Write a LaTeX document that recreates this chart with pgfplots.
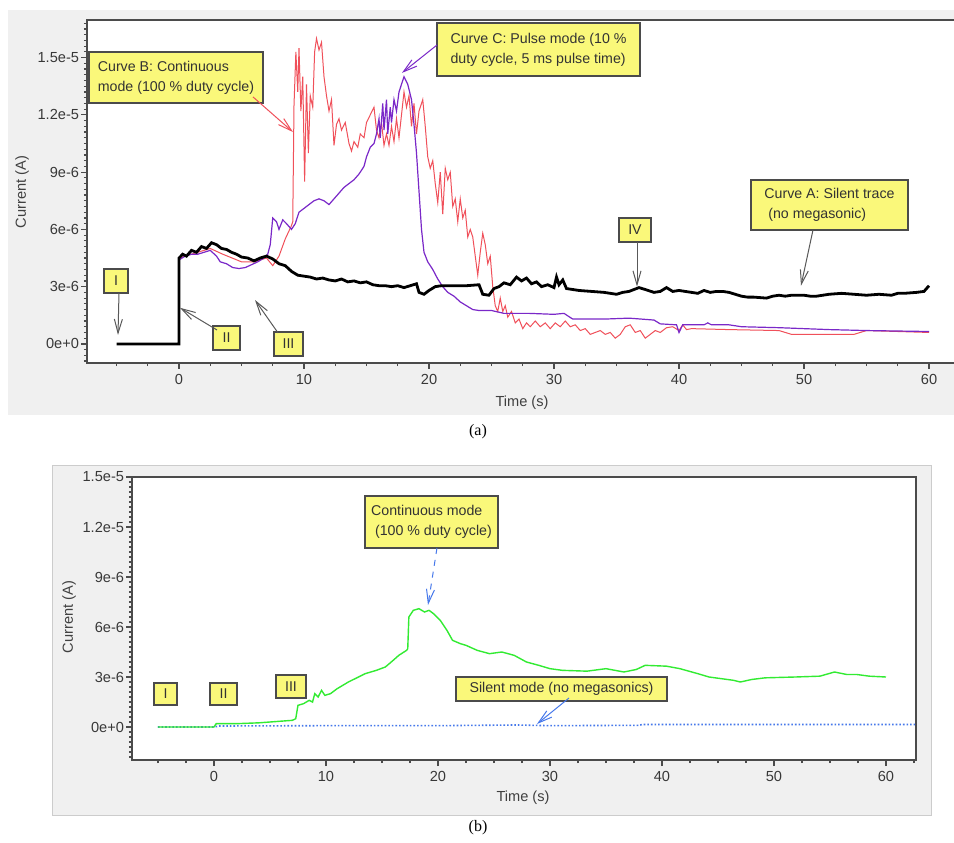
\documentclass[border=0pt]{standalone}
\usepackage{pgfplots}
\pgfplotsset{compat=1.18}
\usepackage{fontspec}
\setmainfont{Liberation Sans}
\newfontfamily\capfont{Liberation Serif}
\usetikzlibrary{arrows.meta}
\definecolor{annyellow}{RGB}{250,248,122}
\definecolor{curvered}{RGB}{240,80,90}
\definecolor{curvepurple}{RGB}{122,40,200}
\definecolor{curvegreen}{RGB}{50,235,50}
\definecolor{curveblue}{RGB}{70,120,235}
\definecolor{bggray}{RGB}{240,240,240}
\definecolor{axgray}{RGB}{75,75,75}
\begin{document}
\begin{tikzpicture}[
  ann/.style={draw=axgray, line width=0.7pt, fill=annyellow, font=\fontsize{7.1}{10}\selectfont, text=black!80, inner sep=0pt, align=center},
  annm/.style={ann, align=left},
  arr/.style={draw=black!65, line width=0.5pt, -{Straight Barb[length=7pt,width=4pt]}},
  lab/.style={font=\fontsize{7.3}{9}\selectfont, text=black!75}
]
\useasboundingbox (0,0) rectangle (477pt,421pt);
% gray panels
\fill[bggray] (4pt,213.5pt) rectangle (480pt,416pt);
\filldraw[fill=bggray, draw=black!20, line width=0.5pt] (26pt,13.5pt) rectangle (465.5pt,188pt);

\pgfplotsset{
  myaxis/.style={
    scale only axis, anchor=south west, clip=false,
    axis background/.style={fill=white},
    axis line style={draw=axgray, line width=0.9pt},
    xtick pos=bottom, ytick pos=left, tick align=outside,
    major tick length=3pt, minor tick length=1.6pt,
    tick style={draw=axgray, line width=0.6pt},
    xtick={0,10,...,60},
    minor xtick={-5,-2.5,...,62.5},
    ytick={0,3,6,9,12,15},
    yticklabels={0e+0,3e-6,6e-6,9e-6,1.2e-5,1.5e-5},
    minor ytick={-1.8,-1.5,...,16.9},
    /pgf/number format/assume math mode=true,
    tick label style={font=\fontsize{7.3}{8}\selectfont, text=black!78},
    yticklabel style={inner sep=0.8pt},
    xticklabel style={inner sep=1.5pt, yshift=-1pt},
  }
}

% ---------- panel (a) ----------
\begin{axis}[myaxis,
  at={(43.5pt,239.5pt)}, width=436.5pt, height=171.5pt,
  xmin=-7.36, xmax=62.48, ymin=-1.0, ymax=16.97]
% Curve B (red)
\addplot[curvered, line width=0.5pt] coordinates {
(0,0)(0,4.5)(1,4.7)(2.5,5.0)(3.5,4.7)(5,4.3)(6,4.3)(7,4.5)(7.5,4.1)(8,4.6)(8.5,5.5)(9,6.2)(9.1,6.4)
(9.2,12.5)(9.35,15.3)(9.5,13.2)(9.6,15.5)(9.75,12.2)(9.9,14.0)(10.05,8.5)(10.2,13.6)(10.35,10.0)(10.5,13.0)
(10.7,12.4)(10.85,15.3)(11.0,16.0)(11.2,15.4)(11.4,15.8)(11.6,14.0)(11.8,13.0)(12.0,12.2)(12.2,12.8)(12.4,10.4)
(12.6,11.5)(12.8,11.8)(13.0,11.2)(13.3,11.6)(13.6,10.5)(13.8,10.1)(14.0,10.6)(14.3,10.3)(14.5,11.0)(14.8,10.8)
(15.0,11.6)(15.3,12.0)(15.6,12.4)(15.8,11.2)(16.0,10.8)(16.2,11.6)(16.4,10.4)(16.6,11.0)(16.8,10.4)(17.0,11.4)
(17.2,10.6)(17.4,11.8)(17.6,10.8)(17.8,12.0)(18.0,13.2)(18.2,12.4)(18.4,13.0)(18.6,11.4)(18.8,12.6)(19.0,11.0)
(19.2,12.2)(19.5,12.8)(19.7,11.4)(19.9,9.8)(20.1,9.2)(20.3,9.6)(20.5,8.4)(20.7,7.4)(20.9,9.0)(21.1,6.8)
(21.3,9.2)(21.5,8.6)(21.7,9.0)(21.9,7.2)(22.1,7.6)(22.3,6.4)(22.5,7.6)(22.7,6.6)(22.9,7.0)(23.1,5.6)
(23.3,6.0)(23.5,5.6)(23.7,4.6)(23.9,3.6)(24.1,4.8)(24.3,5.8)(24.5,5.2)(24.7,4.2)(24.9,4.6)(25.1,3.0)
(25.3,2.0)(25.5,1.7)(25.7,2.4)(25.9,1.7)(26.1,2.0)(26.3,1.4)(26.6,1.7)(26.9,1.1)(27.2,1.3)(27.5,0.8)
(27.8,1.1)(28.1,0.9)(28.5,1.2)(28.9,0.9)(29.3,1.1)(29.7,0.8)(30.1,1.1)(30.5,0.9)(30.9,1.2)(31.3,0.9)
(31.7,1.0)(32.1,0.7)(32.5,0.8)(32.9,0.5)(33.3,0.6)(33.7,0.7)(34.1,0.5)(34.5,0.6)(34.9,0.3)(35.3,0.5)
(35.7,0.9)(36.1,1.0)(36.5,0.6)(36.9,0.7)(37.3,0.3)(37.7,0.5)(38.1,0.7)(38.5,0.6)(39,0.85)(39.5,0.9)
(40,0.7)(40.3,1.0)(40.6,0.75)(41,0.8)(44,0.75)(48,0.7)(49,0.5)(54,0.5)(55,0.7)(60,0.6)};
% Curve C (purple)
\addplot[curvepurple, line width=0.6pt] coordinates {
(0,0)(0,4.4)(0.5,4.6)(1,4.7)(1.5,4.7)(2,4.8)(2.5,4.9)(3,4.6)(3.3,4.3)(3.8,4.2)(4.3,4.0)(4.8,3.95)(5.3,4.0)
(5.8,4.15)(6.3,4.3)(6.8,4.5)(7.1,4.7)(7.3,5.2)(7.5,6.6)(7.8,6.4)(8.0,6.0)(8.3,6.5)(8.6,6.3)(9.0,6.0)(9.3,6.3)
(9.6,6.9)(10.0,7.1)(10.4,7.3)(10.8,7.5)(11.2,7.6)(11.6,7.5)(12.0,7.3)(12.4,7.6)(12.8,7.9)(13.2,8.2)(13.6,8.4)
(14.0,8.6)(14.4,8.9)(14.8,9.3)(15.0,9.8)(15.3,10.3)(15.6,10.5)(15.8,11.0)(16.0,11.8)(16.1,10.8)(16.3,12.6)
(16.4,11.2)(16.6,12.8)(16.7,11.0)(16.9,12.4)(17.0,11.6)(17.2,12.8)(17.4,12.2)(17.6,13.2)(17.8,13.6)(18.0,14.0)
(18.3,13.6)(18.6,12.8)(18.8,11.5)(19.0,10.0)(19.2,8.0)(19.4,6.0)(19.6,4.8)(19.9,4.3)(20.3,3.9)(20.7,3.4)
(21.1,3.0)(21.5,2.7)(22,2.5)(22.5,2.2)(23,2.0)(23.5,1.8)(24,1.75)(25,1.75)(26,1.6)(28,1.6)(30,1.55)(30.8,1.6)
(31.5,1.3)(34,1.3)(36,1.35)(38,1.25)(38.5,1.05)(39.8,1.0)(40.0,0.6)(40.3,1.0)(42,1.0)(42.3,1.1)(42.6,1.0)
(44,1.0)(45,0.9)(48,0.85)(50,0.8)(52,0.75)(55,0.7)(60,0.65)};
% Curve A (black)
\addplot[black, line width=1.4pt] coordinates {
(-5,0)(0,0)(0,4.5)(0.3,4.7)(0.6,4.6)(1,4.9)(1.4,4.8)(1.8,5.1)(2.2,5.0)(2.6,5.3)(3,5.2)(3.4,5.0)(3.8,4.95)
(4.2,4.8)(4.6,4.7)(5,4.55)(5.5,4.5)(6,4.35)(6.5,4.5)(7,4.6)(7.5,4.45)(8,4.2)(8.5,4.1)(9,3.8)(9.5,3.6)
(10,3.55)(10.5,3.5)(11,3.4)(11.5,3.45)(12,3.35)(12.5,3.3)(13,3.4)(13.5,3.25)(14,3.3)(14.5,3.2)(15,3.25)
(15.5,3.1)(16,3.05)(16.5,3.05)(17,3.0)(17.5,3.05)(18,2.95)(18.5,3.05)(19,3.15)(19.2,2.7)(19.6,2.6)(20,2.8)
(20.5,3.0)(21,3.05)(22,3.05)(23,3.05)(24,3.1)(24.3,2.6)(24.8,2.55)(25.2,2.9)(25.6,3.0)(26,3.2)(26.5,3.1)
(27,3.5)(27.4,3.3)(27.8,3.45)(28.2,3.15)(28.6,3.25)(29,3.0)(29.5,3.1)(30,2.95)(30.2,3.5)(30.4,3.1)(30.7,3.35)
(31,2.9)(31.5,2.85)(32,2.8)(33,2.75)(34,2.7)(35,2.6)(35.5,2.7)(36,2.75)(36.8,2.95)(37.3,2.85)(38,2.7)
(38.5,2.75)(39,2.95)(39.5,2.75)(40,2.8)(41,2.7)(41.5,2.65)(42,2.8)(42.5,2.7)(43,2.75)(43.5,2.75)(44,2.7)
(44.5,2.6)(45,2.5)(45.5,2.45)(46,2.45)(47,2.4)(47.5,2.5)(48,2.55)(48.5,2.5)(49,2.55)(50,2.55)(50.5,2.5)
(51,2.5)(52,2.6)(53,2.65)(54,2.6)(55,2.55)(56,2.6)(57,2.55)(57.5,2.65)(58,2.65)(59,2.7)(59.6,2.75)(60,3.05)};
% annotations
\node[annm, minimum width=87pt, minimum height=25.5pt] at (axis cs:-0.24,13.96) {Curve B: Continuous\\mode (100 \% duty cycle)};
\draw[arr, draw=curvered] (axis cs:5.92,12.94) -- (axis cs:9.12,11.1);
\node[annm, minimum width=101.5pt, minimum height=26.5pt] at (axis cs:28.76,15.43) {Curve C: Pulse mode (10 \%\\duty cycle, 5 ms pulse time)};
\draw[arr, draw=curvepurple] (axis cs:20.64,15.66) -- (axis cs:17.84,14.2);
\node[annm, minimum width=78.5pt, minimum height=25pt] at (axis cs:52.04,7.28) {Curve A: Silent trace\\\ (no megasonic)};
\draw[arr] (axis cs:50.72,5.97) -- (axis cs:49.76,3.05);
\node[ann, minimum width=16pt, minimum height=12pt] at (axis cs:36.48,5.97) {IV};
\draw[arr] (axis cs:36.64,5.34) -- (axis cs:36.64,3.0);
\node[ann, minimum width=12pt, minimum height=12pt] at (axis cs:-5.04,3.30) {I};
\draw[arr] (axis cs:-4.8,2.67) -- (axis cs:-4.88,0.47);
\node[ann, minimum width=13.5pt, minimum height=12pt] at (axis cs:3.8,0.31) {II};
\draw[arr] (axis cs:3.04,0.73) -- (axis cs:0.08,1.89);
\node[ann, minimum width=14.5pt, minimum height=12pt] at (axis cs:8.76,0.0) {III};
\draw[arr] (axis cs:7.92,0.58) -- (axis cs:6.08,2.30);
\end{axis}

% ---------- panel (b) ----------
\begin{axis}[myaxis,
  at={(66pt,41pt)}, width=392pt, height=141.5pt,
  xmin=-7.32, xmax=62.68, ymin=-1.98, ymax=15]
\addplot[curveblue, line width=0.8pt, densely dotted] coordinates {
(-5,0)(0,0)(0.5,0.06)(10,0.08)(20,0.08)(27,0.12)(30,0.08)(38,0.1)(38.2,0.15)(62.6,0.15)};
\addplot[curvegreen, line width=0.7pt] coordinates {
(-5,0)(0,0)(0.2,0.2)(2,0.2)(4,0.25)(5,0.3)(6,0.35)(7,0.4)(7.3,0.5)(7.5,1.3)(8,1.4)(8.5,1.6)(8.8,1.5)
(9.0,2.0)(9.3,1.8)(9.6,2.2)(9.9,1.9)(10.4,2.0)(11,2.3)(12,2.7)(12.6,2.9)(13.5,3.2)(14.5,3.4)(15.3,3.6)
(16,4.0)(16.5,4.3)(17.2,4.6)(17.3,4.7)(17.4,6.6)(17.8,7.0)(18.3,7.1)(18.8,6.9)(19.2,7.0)(19.6,6.8)(20.2,6.4)
(20.8,5.8)(21.3,5.2)(22.0,5.0)(22.5,4.9)(23.5,4.6)(24.6,4.4)(25.7,4.5)(26.8,4.3)(27.9,3.9)(29,3.7)(30,3.5)
(31.1,3.4)(33.3,3.35)(35,3.5)(36.6,3.3)(37.7,3.45)(38.5,3.7)(40.4,3.65)(41.6,3.5)(43.2,3.2)(44.2,3.0)
(46.4,2.8)(47,2.7)(48,2.85)(49.2,2.95)(51.9,3.0)(54.1,3.05)(55.4,3.3)(56.5,3.15)(57.4,3.15)(58.5,3.05)(60,3.0)};
\node[annm, minimum width=66.5pt, minimum height=26pt] at (axis cs:19.42,12.3) {Continuous mode\\\ (100 \% duty cycle)};
\draw[arr, draw=curveblue, dashed] (axis cs:19.91,10.74) -- (axis cs:19.11,7.32);
\node[ann, minimum width=105.5pt, minimum height=12pt] at (axis cs:31.03,2.28) {Silent mode (no megasonics)};
\draw[arr, draw=curveblue] (axis cs:31.7,1.74) -- (axis cs:28.84,0.18);
\node[ann, minimum width=11.5pt, minimum height=11pt] at (axis cs:-4.33,1.98) {I};
\node[ann, minimum width=13.5pt, minimum height=11pt] at (axis cs:0.85,1.98) {II};
\node[ann, minimum width=15pt, minimum height=11.5pt] at (axis cs:6.875,2.43) {III};
\end{axis}

% axis labels and captions
\node[lab, rotate=90] at (11pt,325pt) {Current (A)};
\node[lab] at (261pt,219.5pt) {Time (s)};
\node[lab, rotate=90] at (34.5pt,112.5pt) {Current (A)};
\node[lab] at (261.5pt,22pt) {Time (s)};
\node[font=\capfont\fontsize{8}{9}\selectfont] at (239pt,205pt) {(a)};
\node[font=\capfont\fontsize{8}{9}\selectfont] at (239pt,7pt) {(b)};
\end{tikzpicture}
\end{document}
